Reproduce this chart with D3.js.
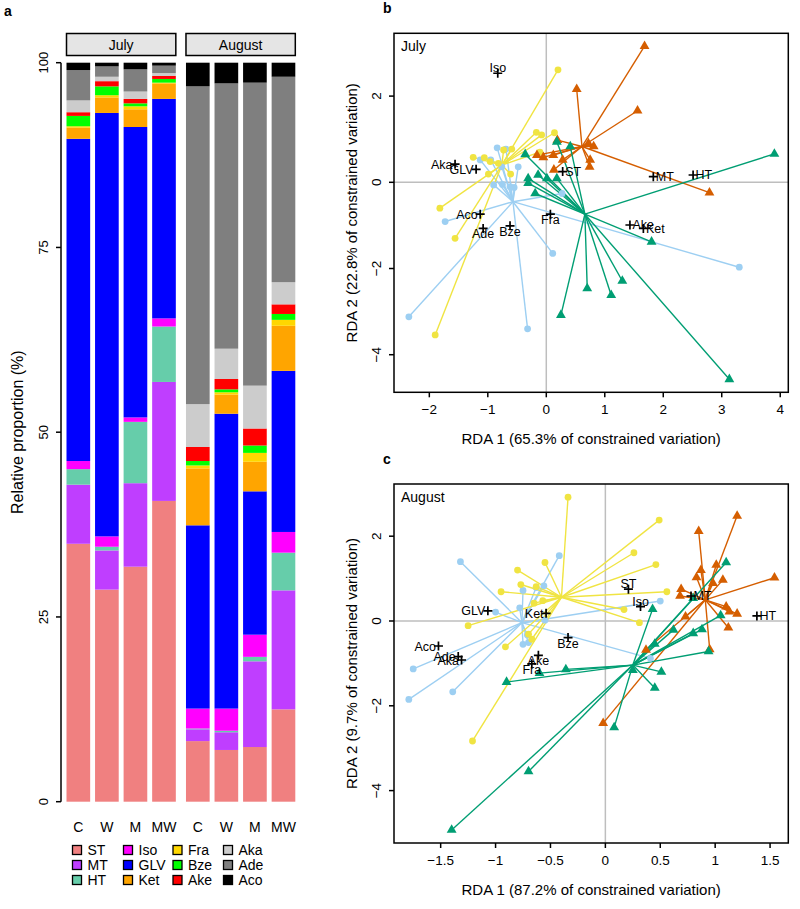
<!DOCTYPE html>
<html><head><meta charset="utf-8">
<script src="https://cdn.jsdelivr.net/npm/d3@7"></script>
<style>body{margin:0;background:#fff} text{font-family:"Liberation Sans",Arial,Helvetica,sans-serif;fill:#000}</style>
</head><body>
<svg id="chart" width="800" height="909" xmlns="http://www.w3.org/2000/svg"></svg>
<script>
// ---------- Panel a data ----------
const months = ["July", "August"];
const treatments = ["C", "W", "M", "MW"];
const taxa = ["ST","MT","HT","Iso","GLV","Ket","Fra","Bze","Ake","Aka","Ade","Aco"];
const taxaColors = ["#F08080","#BF3EFF","#66CDAA","#FF00FF","#0000FF","#FFA500","#FFD700","#00FF00","#FF0000","#CCCCCC","#7F7F7F","#000000"];
// order: July C, W, M, MW, August C, W, M, MW
const ST  = [34.9, 28.7, 31.8, 40.7,  8.2,  7.0,  7.4, 12.5];
const MT  = [ 8.0,  5.3, 11.3, 16.1,  1.6,  2.4, 11.6, 16.1];
const HT  = [ 2.1,  0.5,  8.3,  7.5,  0.1,  0.2,  0.6,  5.1];
const Iso = [ 1.1,  1.4,  0.6,  1.1,  2.7,  3.0,  3.0,  2.8];
const GLV = [43.6, 57.3, 39.3, 29.7, 24.8, 39.9, 19.4, 21.8];
const Ket = [ 1.5,  2.1,  2.4,  2.1,  7.7,  2.6,  4.0,  6.1];
const Fra = [ 0.2,  0.3,  0.4,  0.1,  0.4,  0.3,  1.2,  0.8];
const Bze = [ 1.4,  1.2,  0.4,  0.5,  0.6,  0.4,  1.0,  0.8];
const Ake = [ 0.5,  0.7,  0.6,  0.4,  1.9,  1.4,  2.3,  1.3];
const Aka = [ 1.6,  0.6,  1.0,  0.4,  5.8,  4.1,  5.8,  3.0];
const Ade = [ 4.1,  1.4,  3.0,  1.0, 43.0, 35.9, 41.0, 27.8];
const Aco = [ 1.0,  0.5,  0.9,  0.4,  3.2,  2.8,  2.7,  1.9];
const yTicksA = [0, 25, 50, 75, 100];

// ---------- Panel b (July RDA) data ----------
const julySpecies  = ["Iso","Aka","GLV","ST","MT","HT","Aco","Ade","Bze","Fra","Ake","Ket"];
const julySpeciesX = [-0.83,-1.56,-1.20,0.28,1.83,2.51,-1.13,-1.08,-0.62,0.07,1.43,1.66];
const julySpeciesY = [ 2.53, 0.42, 0.30,0.25,0.13,0.17,-0.74,-1.07,-1.01,-0.74,-0.99,-1.07];
const julyLabelPos = [3,2,2,4,4,4,2,1,1,1,4,4];
const julyCentroidX = [-0.57,-0.76,0.61,0.66];
const julyCentroidY = [-0.45, 0.40,0.83,-0.74];
const julyBlueX = [-0.84,-0.69,-1.13,-0.95,-0.76,-0.48,-0.90,-0.62,-0.75,-0.55,0.27,-1.73,0.11,3.30,-2.35,-0.32];
const julyBlueY = [0.80,0.77,0.52,0.52,0.36,0.36,-0.06,-0.10,-0.05,-0.12,-0.26,-0.91,-1.65,-1.97,-3.12,-3.40];
const julyYellowX = [0.20,-0.17,-0.08,0.14,-0.73,-0.59,-0.11,-1.25,-1.06,-0.96,-0.82,-0.99,-0.61,-1.82,-1.56,-1.90];
const julyYellowY = [2.61,1.16,1.10,1.15,0.75,0.77,0.70,0.58,0.57,0.48,0.44,0.19,0.19,-0.60,-1.30,-3.54];
const julyOrangeX = [1.68,0.52,1.56,0.19,0.72,0.81,-0.16,-0.05,0.12,0.28,0.75,0.74,0.13,2.79];
const julyOrangeY = [3.16,2.16,1.66,0.98,0.90,0.83,0.63,0.58,0.63,0.52,0.52,0.36,0.29,-0.24];
const julyGreenX = [3.90,-0.36,0.18,0.41,-0.14,-0.31,0.18,0.01,-0.19,-0.31,1.80,1.30,0.70,1.11,0.25,3.13];
const julyGreenY = [0.66,0.65,0.94,0.83,0.17,0.09,0.09,0.09,-0.26,-0.02,-1.38,-2.29,-2.46,-2.62,-3.08,-4.57];
const julyXTicks = [-2,-1,0,1,2,3,4];
const julyYTicks = [-4,-2,0,2];

// ---------- Panel c (August RDA) data ----------
const augSpecies  = ["GLV","Ket","ST","Iso","MT","HT","Aco","Ade","Aka","Bze","Ake","Fra"];
const augSpeciesX = [-1.07,-0.54,0.21,0.32,0.78,1.38,-1.52,-1.34,-1.31,-0.34,-0.61,-0.67];
const augSpeciesY = [ 0.24, 0.18,0.75,0.34,0.59,0.12,-0.59,-0.84,-0.92,-0.39,-0.81,-1.01];
const augLabelPos = [2,2,3,3,4,4,2,2,2,1,1,1];
const augCentroidX = [-0.76,-0.40,0.91,0.25];
const augCentroidY = [-0.04, 0.56,0.50,-1.04];
const augBlueX = [-1.32,-0.42,-0.56,-0.63,-0.75,-0.78,-1.00,-0.55,0.50,-0.71,-0.70,-0.75,0.41,-1.75,-1.79,-1.39];
const augBlueY = [1.40,1.54,0.83,0.79,0.72,0.31,0.21,0.02,0.47,-0.33,-0.51,-0.55,-0.88,-1.13,-1.85,-1.67];
const augYellowX = [-0.34,0.49,0.26,0.46,-0.55,-0.80,-0.77,-0.63,-0.95,0.56,-0.57,-0.65,0.17,0.31,-1.25,-0.91,-0.67,-0.70,-1.21];
const augYellowY = [2.92,2.38,1.61,1.33,1.38,1.20,0.86,0.81,0.69,0.69,0.48,0.42,0.27,-0.04,-0.11,-0.61,-0.43,-0.31,-2.83];
const augOrangeX = [1.20,0.85,1.54,0.87,0.83,1.01,0.98,1.07,0.69,0.68,1.10,1.13,1.20,0.73,1.12,0.95,0.37,-0.02];
const augOrangeY = [2.48,2.12,1.02,1.20,1.03,1.32,0.89,0.97,0.75,0.59,0.34,0.22,0.17,0.10,-0.16,-0.67,-0.68,-2.41];
const augGreenX = [1.10,1.05,0.80,0.43,0.88,0.80,0.62,0.45,0.94,0.51,-0.36,-0.60,-0.90,0.45,0.08,-0.70,-1.40,0.25];
const augGreenY = [1.38,0.13,0.54,0.28,-0.20,-0.29,-0.21,-0.54,-0.72,-1.20,-1.14,-1.23,-1.44,-1.58,-2.51,-3.55,-4.93,-1.16];
const augXTicks = [-1.5,-1,-0.5,0,0.5,1,1.5];
const augYTicks = [-4,-2,0,2];

const groupColors = ["#9DCFF2","#F0E442","#D55E00","#009E73"];
const groupShapes = ["circle","circle","triangle","triangle"];

// ---------- Drawing ----------
const svg = d3.select("#chart");
const fmt = v => (v < 0 ? "\u2212" : "") + Math.abs(v);

// Panel a
const ga = svg.append("g");
ga.append("text").attr("x", 4).attr("y", 16).attr("font-size", 14).attr("font-weight", "bold").text("a");
const yA = d3.scaleLinear().domain([0, 100]).range([801.7, 62.7]);
const facetX = d3.scaleBand().domain(months).range([66.5, 295.3]).paddingInner(0.085);
const values = [ST, MT, HT, Iso, GLV, Ket, Fra, Bze, Ake, Aka, Ade, Aco];
months.forEach((m, mi) => {
  const x0 = facetX(m), w = facetX.bandwidth();
  const xb = d3.scaleBand().domain(treatments).range([x0, x0 + w]).paddingInner(0.171).paddingOuter(0);
  ga.append("rect").attr("x", x0).attr("y", 33.5).attr("width", w).attr("height", 22)
    .attr("fill", "#E5E5E5").attr("stroke", "#000").attr("stroke-width", 1.5);
  ga.append("text").attr("x", x0 + w / 2).attr("y", 49.5).attr("text-anchor", "middle").attr("font-size", 14).text(m);
  treatments.forEach((t, ti) => {
    const idx = mi * 4 + ti;
    let cum = 0;
    taxa.forEach((tx, k) => {
      const v = values[k][idx];
      ga.append("rect").attr("x", xb(t)).attr("width", xb.bandwidth())
        .attr("y", yA(cum + v)).attr("height", yA(cum) - yA(cum + v))
        .attr("fill", taxaColors[k]);
      cum += v;
    });
    ga.append("text").attr("x", xb(t) + xb.bandwidth() / 2).attr("y", 832).attr("text-anchor", "middle")
      .attr("font-size", 14).text(t);
  });
});
ga.append("line").attr("x1", 61).attr("x2", 61).attr("y1", yA(0)).attr("y2", yA(100)).attr("stroke", "#000").attr("stroke-width", 1.5);
yTicksA.forEach(t => {
  ga.append("line").attr("x1", 56).attr("x2", 61).attr("y1", yA(t)).attr("y2", yA(t)).attr("stroke", "#000").attr("stroke-width", 1.5);
  ga.append("text").attr("transform", `translate(48,${yA(t)}) rotate(-90)`).attr("text-anchor", "middle")
    .attr("font-size", 13).text(t);
});
ga.append("text").attr("transform", `translate(23,${yA(50)}) rotate(-90)`).attr("text-anchor", "middle")
  .attr("font-size", 16).text("Relative proportion (%)");
taxa.forEach((tx, k) => {
  const col = Math.floor(k / 3), row = k % 3;
  const lx = [72.5, 123.5, 173, 223.5][col], ly = [850, 865, 880][row];
  ga.append("rect").attr("x", lx).attr("y", ly - 4.5).attr("width", 9).attr("height", 9)
    .attr("fill", taxaColors[k]).attr("stroke", "#000").attr("stroke-width", 1.3);
  ga.append("text").attr("x", lx + 15).attr("y", ly + 5).attr("font-size", 14).text(tx);
});

function drawRDA(cfg) {
  const g = svg.append("g");
  const x = d3.scaleLinear().domain(cfg.xDomain).range([cfg.left, cfg.right]);
  const y = d3.scaleLinear().domain(cfg.yDomain).range([cfg.bottom, cfg.top]);
  g.append("text").attr("x", 383).attr("y", cfg.top - 20).attr("font-size", 14).attr("font-weight", "bold").text(cfg.letter);
  g.append("line").attr("x1", x(0)).attr("x2", x(0)).attr("y1", cfg.top).attr("y2", cfg.bottom).attr("stroke", "#BEBEBE").attr("stroke-width", 1.5);
  g.append("line").attr("x1", cfg.left).attr("x2", cfg.right).attr("y1", y(0)).attr("y2", y(0)).attr("stroke", "#BEBEBE").attr("stroke-width", 1.5);
  cfg.groups.forEach((gr, gi) => {
    const cx = x(cfg.cx[gi]), cy = y(cfg.cy[gi]);
    gr.x.forEach((vx, i) => {
      g.append("line").attr("x1", cx).attr("y1", cy).attr("x2", x(vx)).attr("y2", y(gr.y[i]))
        .attr("stroke", groupColors[gi]).attr("stroke-width", 1.4);
    });
  });
  cfg.groups.forEach((gr, gi) => {
    gr.x.forEach((vx, i) => {
      if (groupShapes[gi] === "circle") {
        g.append("circle").attr("cx", x(vx)).attr("cy", y(gr.y[i])).attr("r", 3.4).attr("fill", groupColors[gi]);
      } else {
        g.append("path").attr("d", d3.symbol(d3.symbolTriangle, 42)())
          .attr("transform", `translate(${x(vx)},${y(gr.y[i])})`).attr("fill", groupColors[gi]);
      }
    });
  });
  cfg.species.forEach((s, i) => {
    const px = x(cfg.sx[i]), py = y(cfg.sy[i]);
    g.append("path").attr("d", `M${px - 4.5},${py}H${px + 4.5}M${px},${py - 4.5}V${py + 4.5}`)
      .attr("stroke", "#000").attr("stroke-width", 1.7);
    const p = cfg.pos[i];
    const t = g.append("text").attr("font-size", 12.5).text(s);
    if (p === 1) t.attr("x", px).attr("y", py + 10).attr("text-anchor", "middle");
    else if (p === 3) t.attr("x", px).attr("y", py - 1).attr("text-anchor", "middle");
    else if (p === 2) t.attr("x", px - 2.5).attr("y", py + 4.5).attr("text-anchor", "end");
    else t.attr("x", px + 2.5).attr("y", py + 4.5).attr("text-anchor", "start");
  });
  g.append("rect").attr("x", cfg.left).attr("y", cfg.top).attr("width", cfg.right - cfg.left).attr("height", cfg.bottom - cfg.top)
    .attr("fill", "none").attr("stroke", "#000").attr("stroke-width", 1.5);
  g.append("text").attr("x", cfg.left + 7).attr("y", cfg.top + 18).attr("font-size", 14).text(cfg.title);
  cfg.xTicks.forEach(t => {
    g.append("line").attr("x1", x(t)).attr("x2", x(t)).attr("y1", cfg.bottom).attr("y2", cfg.bottom + 5).attr("stroke", "#000").attr("stroke-width", 1.5);
    g.append("text").attr("x", x(t)).attr("y", cfg.bottom + 22).attr("text-anchor", "middle").attr("font-size", 13.5).text(fmt(t));
  });
  cfg.yTicks.forEach(t => {
    g.append("line").attr("x1", cfg.left - 5).attr("x2", cfg.left).attr("y1", y(t)).attr("y2", y(t)).attr("stroke", "#000").attr("stroke-width", 1.5);
    g.append("text").attr("transform", `translate(${cfg.left - 13},${y(t)}) rotate(-90)`).attr("text-anchor", "middle").attr("font-size", 13.5).text(fmt(t));
  });
  g.append("text").attr("x", (cfg.left + cfg.right) / 2).attr("y", cfg.bottom + 52).attr("text-anchor", "middle").attr("font-size", 15).text(cfg.xLabel);
  g.append("text").attr("transform", `translate(357,${(cfg.top + cfg.bottom) / 2}) rotate(-90)`).attr("text-anchor", "middle").attr("font-size", 15).text(cfg.yLabel);
}

drawRDA({
  letter: "b", title: "July", left: 394, right: 788.3, top: 33.3, bottom: 392.3,
  xDomain: [-2.604, 4.138], yDomain: [-4.872, 3.457],
  xTicks: julyXTicks, yTicks: julyYTicks,
  xLabel: "RDA 1 (65.3% of constrained variation)", yLabel: "RDA 2 (22.8% of constrained variation)",
  species: julySpecies, sx: julySpeciesX, sy: julySpeciesY, pos: julyLabelPos,
  cx: julyCentroidX, cy: julyCentroidY,
  groups: [{x: julyBlueX, y: julyBlueY}, {x: julyYellowX, y: julyYellowY}, {x: julyOrangeX, y: julyOrangeY}, {x: julyGreenX, y: julyGreenY}]
});
drawRDA({
  letter: "c", title: "August", left: 394, right: 788.3, top: 484, bottom: 843,
  xDomain: [-1.925, 1.666], yDomain: [-5.236, 3.231],
  xTicks: augXTicks, yTicks: augYTicks,
  xLabel: "RDA 1 (87.2% of constrained variation)", yLabel: "RDA 2 (9.7% of constrained variation)",
  species: augSpecies, sx: augSpeciesX, sy: augSpeciesY, pos: augLabelPos,
  cx: augCentroidX, cy: augCentroidY,
  groups: [{x: augBlueX, y: augBlueY}, {x: augYellowX, y: augYellowY}, {x: augOrangeX, y: augOrangeY}, {x: augGreenX, y: augGreenY}]
});
</script>
</body></html>
